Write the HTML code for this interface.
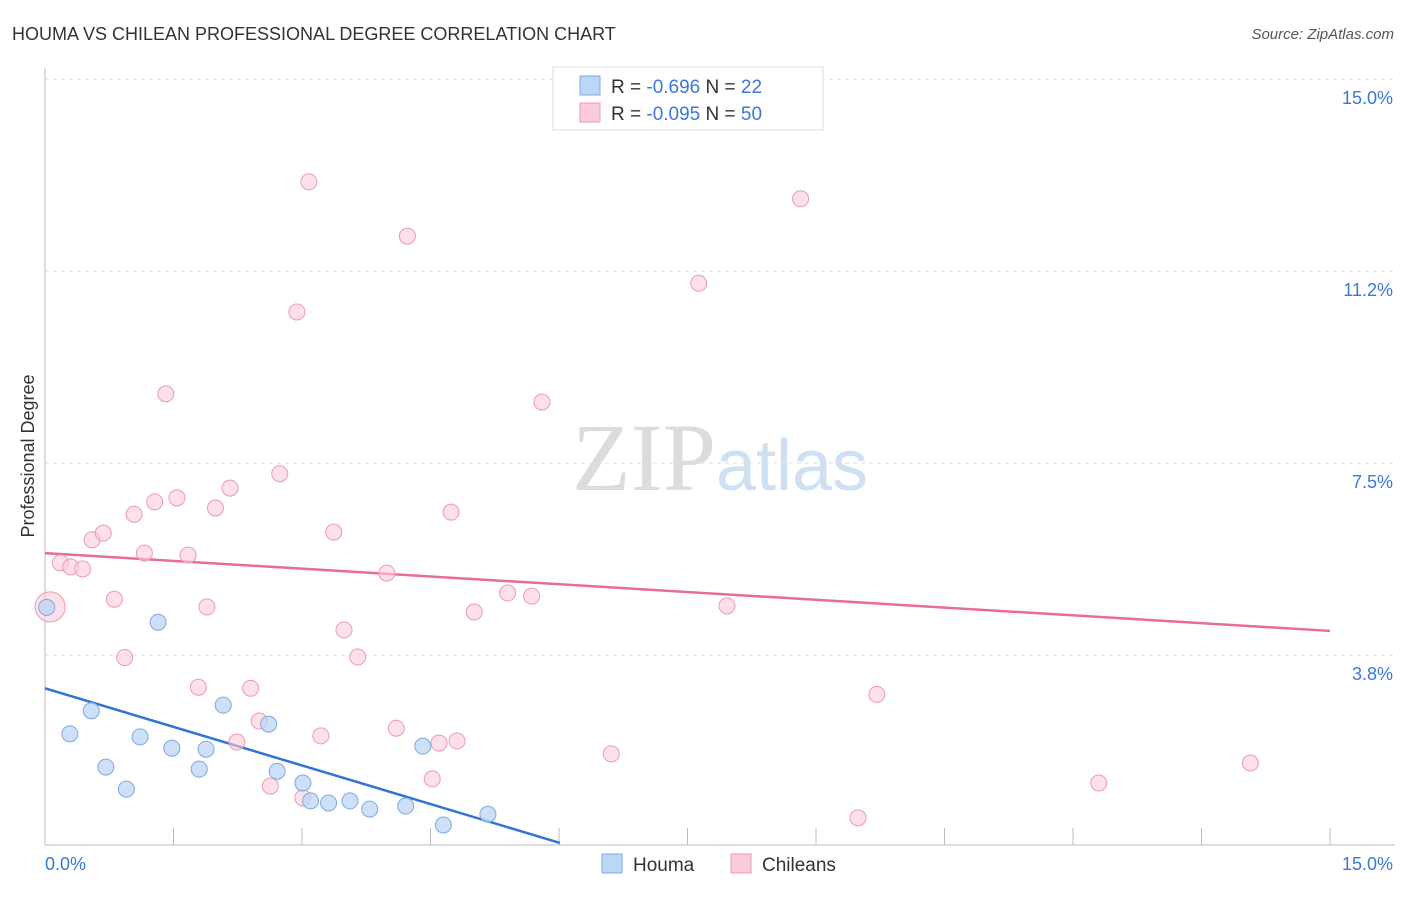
<!DOCTYPE html>
<html><head><meta charset="utf-8"><style>
body{margin:0;background:#fff;font-family:"Liberation Sans",sans-serif;}
</style></head><body>
<svg id="chart" width="1406" height="892" xmlns="http://www.w3.org/2000/svg" font-family="Liberation Sans, sans-serif">
<text x="12" y="40" font-size="18" fill="#333">HOUMA VS CHILEAN PROFESSIONAL DEGREE CORRELATION CHART</text>
<text x="1394" y="39" font-size="15" fill="#555" font-style="italic" text-anchor="end">Source: ZipAtlas.com</text>
<text x="720" y="490" text-anchor="middle" font-size="96"><tspan font-family="Liberation Serif, serif" fill="#dcdcdc">ZIP</tspan><tspan fill="#cfe0f3" font-size="72">atlas</tspan></text>
<g id="grid"></g>
<g id="axes"></g>
<text transform="translate(34,456) rotate(-90)" font-size="18" fill="#333" text-anchor="middle">Professional Degree</text>
<g id="lines"></g>
<g id="pts"></g>
<g>
<rect x="553" y="67" width="270" height="63" fill="#fff" stroke="#ddd"/>
<rect x="580" y="76" width="20" height="19" fill="#bcd6f5" stroke="#7ea9e0"/>
<rect x="580" y="103" width="20" height="19" fill="#fbcbd8" stroke="#eb9bb3"/>
<text x="611" y="93" font-size="19" fill="#333">R = <tspan fill="#3b78d8">-0.696</tspan>   N = <tspan fill="#3b78d8">22</tspan></text>
<text x="611" y="120" font-size="19" fill="#333">R = <tspan fill="#3b78d8">-0.095</tspan>   N = <tspan fill="#3b78d8">50</tspan></text>
</g>
<g>
<rect x="602" y="854" width="20" height="19" fill="#bcd6f5" stroke="#7ea9e0"/>
<text x="633" y="871" font-size="19" fill="#333">Houma</text>
<rect x="731" y="854" width="20" height="19" fill="#fbcbd8" stroke="#eb9bb3"/>
<text x="762" y="871" font-size="19" fill="#333">Chileans</text>
</g>
</svg>
<script>
const yTicks=[15.0,11.25,7.5,3.75];
const yTickLabels=["15.0%","11.2%","7.5%","3.8%"];
const xTickLabels=["0.0%","15.0%"];
const houmaX=[0.02,0.29,0.54,0.71,0.95,1.11,1.32,1.48,1.80,1.88,2.08,2.61,2.71,3.01,3.10,3.31,3.56,3.79,4.21,4.41,4.65,5.17];
const houmaY=[4.68,2.21,2.66,1.56,1.13,2.15,4.39,1.93,1.52,1.91,2.77,2.40,1.48,1.25,0.90,0.86,0.90,0.74,0.80,1.97,0.43,0.64];
const chileX=[0.06,0.18,0.30,0.44,0.55,0.68,0.81,0.93,1.04,1.16,1.28,1.41,1.54,1.67,1.79,1.89,1.99,2.16,2.24,2.40,2.50,2.63,2.74,2.94,3.01,3.08,3.22,3.37,3.49,3.65,3.99,4.10,4.23,4.52,4.60,4.74,4.81,5.01,5.40,5.68,5.80,6.61,7.63,7.96,8.82,9.49,9.71,12.30,14.07];
const chileY=[4.69,5.55,5.47,5.43,6.00,6.13,4.84,3.70,6.50,5.74,6.74,8.85,6.82,5.70,3.12,4.69,6.62,7.01,2.05,3.10,2.46,1.19,7.29,10.45,0.96,12.99,2.17,6.15,4.24,3.71,5.35,2.32,11.93,1.33,2.03,6.54,2.07,4.59,4.96,4.90,8.69,1.82,11.01,4.71,12.66,0.57,2.98,1.25,1.64];
const houmaTrendX=[0,6.01];const houmaTrendY=[3.1,0.08];
const chileTrendX=[0,15];const chileTrendY=[5.74,4.22];
const NS="http://www.w3.org/2000/svg";
const X=v=>45+v*85.67, Y=v=>847-v*51.2;
function mk(t,a,p){const e=document.createElementNS(NS,t);for(const k in a)e.setAttribute(k,a[k]);document.getElementById(p).appendChild(e);return e;}
yTicks.forEach((t,i)=>{
 const g=mk('line',{x1:45,x2:1395,y1:Y(t),y2:Y(t),stroke:'#ddd','stroke-dasharray':'4,4'},'grid');
 
 
 const l=mk('text',{x:1393,y:Y(t)+25,'font-size':18,fill:'#3b78d8','text-anchor':'end'},'axes');l.textContent=yTickLabels[i];
 
 
});
const ya=mk('line',{x1:45,x2:45,y1:68,y2:845,stroke:'#bbb'},'axes');


const xa=mk('line',{x1:45,x2:1395,y1:845,y2:845,stroke:'#bbb'},'axes');


for(let i=0;i<=10;i++){const t=mk('line',{x1:X(i*1.5),x2:X(i*1.5),y1:828,y2:845,stroke:'#bbb'},'axes');
 
 }
[[45,'start'],[1393,'end']].forEach((p,i)=>{const l=mk('text',{x:p[0],y:870,'font-size':18,fill:'#3b78d8','text-anchor':p[1]},'axes');l.textContent=xTickLabels[i];
 
 });
chileX.forEach((x,i)=>{const c=mk('circle',{cx:X(x),cy:Y(chileY[i]),r:i==0?15:8,fill:'#fbcbd8','fill-opacity':0.6,stroke:'#eb9bb3'},'pts');
 
 });
houmaX.forEach((x,i)=>{const c=mk('circle',{cx:X(x),cy:Y(houmaY[i]),r:8,fill:'#bcd6f5','fill-opacity':0.75,stroke:'#7ea9e0'},'pts');
 
 });
const hl=mk('line',{x1:X(houmaTrendX[0]),y1:Y(houmaTrendY[0]),x2:X(houmaTrendX[1]),y2:Y(houmaTrendY[1]),stroke:'#2f74d6','stroke-width':2.5},'lines');


const cl=mk('line',{x1:X(chileTrendX[0]),y1:Y(chileTrendY[0]),x2:X(chileTrendX[1]),y2:Y(chileTrendY[1]),stroke:'#e86d96','stroke-width':2.5},'lines');


</script>
</body></html>
